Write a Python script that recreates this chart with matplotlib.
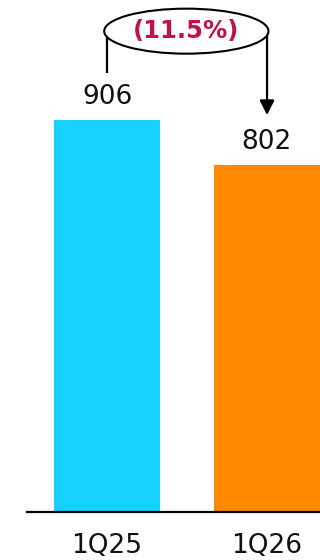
import matplotlib.pyplot as plt
from matplotlib.patches import Ellipse

# Quartalswerte
quartale = ['1Q25', '1Q26']
werte = [906, 802]
farben = ['#16D0FF', '#FF8A00']
veraenderung = '(11.5%)'

fig = plt.figure(figsize=(3.2, 5.6), dpi=100)
ax = fig.add_axes([27 / 320, 48 / 560, 293 / 320, 512 / 560])

x = list(range(len(quartale)))
ax.bar(x, werte, width=0.665, color=farben)

# Werte über den Balken
for xi, w in zip(x, werte):
    ax.text(xi, w + 53, str(w), ha='center', va='center', fontsize=19, color='#111111')

ax.set_xlim(-0.502, 1.335)
ax.set_ylim(0, 1183)
ax.set_xticks(x)
ax.set_xticklabels(quartale, fontsize=19, color='#111111')
ax.tick_params(axis='x', length=0, pad=15)
ax.set_yticks([])
for seite in ['left', 'right', 'top']:
    ax.spines[seite].set_visible(False)
ax.spines['bottom'].set_linewidth(1.6)
ax.spines['bottom'].set_color('black')

# Verbindung mit Veränderung in Prozent
oben = 1109
ax.plot([0, 0], [werte[0] + 111, oben], color='black', lw=1.6)
ax.annotate('', xy=(1.003, werte[1] + 115), xytext=(1.003, oben),
            arrowprops=dict(arrowstyle='-|>', color='black', lw=1.6,
                            mutation_scale=22, shrinkA=0, shrinkB=0))
ax.add_patch(Ellipse((0.497, oben + 2), 1.03, 104, facecolor='white',
                     edgecolor='black', lw=1.5, zorder=3))
ax.text(0.497, oben + 2, veraenderung, ha='center', va='center', fontsize=17.5,
        fontweight='bold', color='#C2104C', zorder=4)

plt.savefig('out.png', dpi=100)
